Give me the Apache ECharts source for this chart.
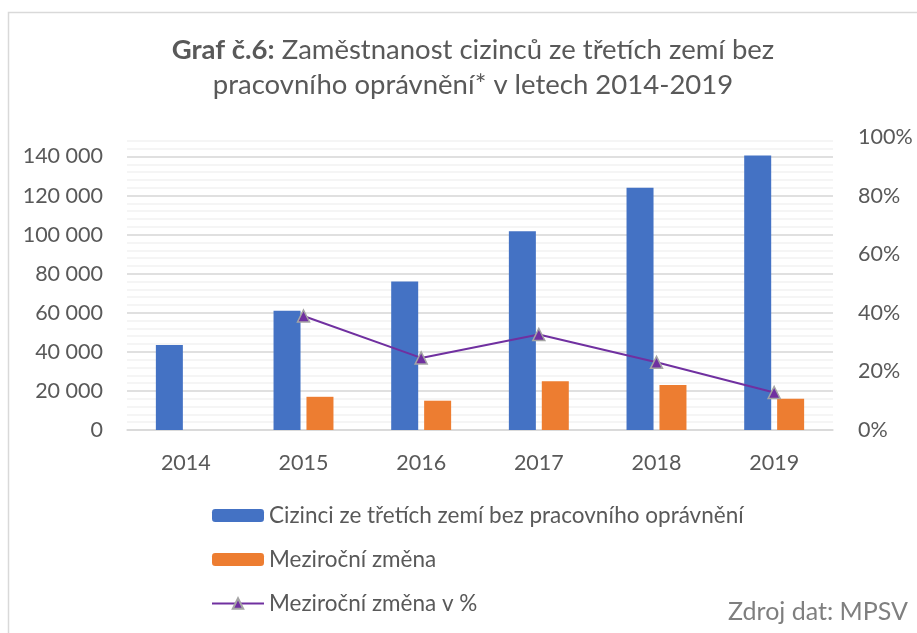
<!DOCTYPE html>
<html>
<head>
<meta charset="utf-8">
<script src="https://cdn.jsdelivr.net/npm/echarts@6/dist/echarts.min.js"></script>
<style>
  html, body { margin: 0; padding: 0; background: #fff; }
  #chart { width: 917px; height: 633px; }
</style>
</head>
<body>
<div id="chart"></div>
<script>
// data
var years = ["2014", "2015", "2016", "2017", "2018", "2019"];
var withoutPermit = [43500, 61000, 76000, 101700, 124000, 140500];
var yearChange = [null, 17000, 15000, 25000, 23000, 16000];
var yearChangePct = [null, 0.389, 0.246, 0.326, 0.231, 0.128];

var seriesNames = [
  "Cizinci ze třetích zemí bez pracovního oprávnění",
  "Meziroční změna",
  "Meziroční změna v %"
];

var font = "Lato";
var textColor = "#595959";

function thousands(v) {
  return String(v).replace(/\B(?=(\d{3})+(?!\d))/g, " ");
}

// line colours per tick: hide the line at the axis max (150 000)
var majorColors = [];
for (var i = 0; i < 8; i++) majorColors.push("#D9D9D9");
majorColors.push("rgba(0,0,0,0)");
var minorColors = [];
for (var j = 0; j < 38; j++) minorColors.push("#F2F2F2");
minorColors.push("rgba(0,0,0,0)");

var chart = echarts.init(document.getElementById("chart"));

chart.setOption({
  animation: false,
  backgroundColor: "#fff",
  textStyle: { fontFamily: font },
  title: {
    text: "{b|Graf č.6:} Zaměstnanost cizinců ze třetích zemí bez\npracovního oprávnění* v letech 2014-2019",
    left: 473,
    top: 33,
    padding: 0,
    textAlign: "center",
    textStyle: {
      fontFamily: font,
      fontSize: 27.5,
      fontWeight: "normal",
      color: textColor,
      lineHeight: 35,
      rich: {
        b: { fontFamily: font, fontSize: 27.5, fontWeight: "bold", color: textColor, lineHeight: 35 }
      }
    }
  },
  graphic: [
    {
      type: "rect",
      shape: { x: 8.5, y: 12.5, width: 1000, height: 700 },
      style: { fill: "none", stroke: "#D9D9D9", lineWidth: 1.5 },
      z: -1
    },
    {
      type: "text",
      right: 9,
      top: 599,
      style: { text: "Zdroj dat: MPSV", fontFamily: font, fontSize: 25, fill: "#7F7F7F" }
    }
  ],
  legend: {
    orient: "vertical",
    left: 211,
    top: 504,
    padding: 0,
    itemWidth: 52,
    itemHeight: 13,
    itemGap: 21,
    data: seriesNames,
    textStyle: { fontFamily: font, fontSize: 22.5, color: textColor, lineHeight: 22, padding: [0, 0, 0, 0] }
  },
  grid: { left: 127, right: 84, top: 137, bottom: 203 },
  xAxis: {
    type: "category",
    data: years,
    axisTick: { show: false },
    axisLine: { lineStyle: { color: "#D9D9D9", width: 1.5 } },
    axisLabel: { fontFamily: font, fontSize: 21.5, color: textColor, margin: 22 }
  },
  yAxis: [
    {
      type: "value",
      min: 0,
      max: 150000,
      interval: 20000,
      z: 1,
      axisLine: { show: false },
      axisTick: { show: false },
      axisLabel: {
        fontFamily: font, fontSize: 21.5, color: textColor, margin: 24,
        showMaxLabel: false,
        formatter: thousands
      },
      splitLine: { lineStyle: { color: majorColors, width: 1.5 } }
    },
    {
      type: "value",
      position: "right",
      min: 0,
      max: 1,
      interval: 0.2,
      axisLine: { show: false },
      axisTick: { show: false },
      splitLine: { show: false },
      axisLabel: {
        fontFamily: font, fontSize: 21.5, color: textColor, margin: 25,
        formatter: function (v) { return Math.round(v * 100) + "%"; }
      }
    },
    {
      // minor gridlines only
      type: "value",
      min: 0,
      max: 150000,
      interval: 4000,
      z: 0,
      axisLine: { show: false },
      axisTick: { show: false },
      axisLabel: { show: false },
      splitLine: { lineStyle: { color: minorColors, width: 1.5 } }
    }
  ],
  series: [
    {
      name: seriesNames[0],
      type: "bar",
      data: withoutPermit,
      barWidth: 27,
      barGap: "22%",
      itemStyle: { color: "#4472C4" }
    },
    {
      name: seriesNames[1],
      type: "bar",
      data: yearChange,
      barWidth: 27,
      itemStyle: { color: "#ED7D31" }
    },
    {
      name: seriesNames[2],
      type: "line",
      yAxisIndex: 1,
      data: yearChangePct,
      symbol: "triangle",
      symbolSize: 12,
      lineStyle: { color: "#7030A0", width: 2 },
      itemStyle: { color: "#7030A0", borderColor: "#A5A5A5", borderWidth: 1.5 },
      z: 5
    }
  ]
});
</script>
</body>
</html>
